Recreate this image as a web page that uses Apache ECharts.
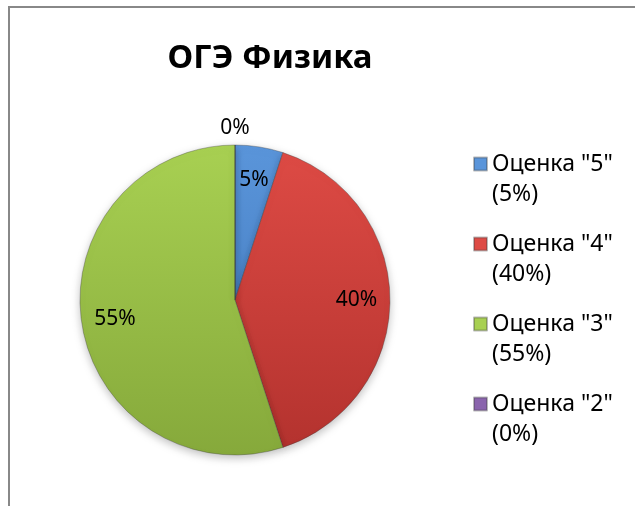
<!DOCTYPE html>
<html>
<head>
<meta charset="utf-8">
<script src="https://cdn.jsdelivr.net/npm/echarts@6/dist/echarts.min.js"></script>
<style>
  html, body { margin: 0; padding: 0; background: #fff; }
  #chart { width: 635px; height: 506px; }
</style>
</head>
<body>
<div id="chart"></div>
<script>
  // данные диаграммы
  const grades = ['Оценка "5"', 'Оценка "4"', 'Оценка "3"', 'Оценка "2"']
  const shares = [5, 40, 55, 0]
  const colorsTop = ['#5a95da', '#de4b45', '#a8d052', '#8a64ad']
  const colorsBottom = ['#3d74b8', '#b3322e', '#86a93b', '#6a4a8a']

  const total = shares.reduce((a, b) => a + b, 0)
  const font = '"Noto Sans", sans-serif'
  const cx = 235, cy = 300, R = 155

  const grad = (i) => new echarts.graphic.LinearGradient(0, cy - R, 0, cy + R, [
    { offset: 0, color: colorsTop[i] },
    { offset: 1, color: colorsBottom[i] }
  ], true)

  const labelStyle = {
    show: true,
    position: 'inside',
    formatter: '{d}%',
    fontFamily: font,
    fontSize: 21,
    color: '#000'
  }

  const chart = echarts.init(document.getElementById('chart'))
  chart.setOption({
    backgroundColor: '#fff',
    animation: false,
    title: {
      text: 'ОГЭ Физика',
      left: 265,
      top: 37,
      textAlign: 'center',
      textStyle: { fontFamily: font, fontWeight: 'bold', fontSize: 33, color: '#000' }
    },
    graphic: [{
      type: 'rect',
      shape: { x: 9, y: 7, width: 700, height: 600 },
      style: { fill: 'none', stroke: '#888', lineWidth: 2 },
      silent: true,
      z: -10
    }],
    legend: {
      orient: 'vertical',
      left: 473,
      top: 119,
      padding: 0,
      itemWidth: 13,
      itemHeight: 13,
      itemGap: -10,
      icon: 'rect',
      data: grades,
      formatter: (name) => {
        const i = grades.indexOf(name)
        return '\n' + name + '\n(' + Math.round(shares[i] / total * 100) + '%)'
      },
      textStyle: { fontFamily: font, fontSize: 23, lineHeight: 30, color: '#000' }
    },
    series: [{
      type: 'pie',
      center: [cx, cy],
      radius: [0, R],
      startAngle: 90,
      clockwise: true,
      avoidLabelOverlap: false,
      label: { show: false },
      labelLine: { show: false },
      itemStyle: {
        borderColor: 'rgba(60,60,60,0.35)',
        borderWidth: 1,
        shadowBlur: 8,
        shadowOffsetY: 3,
        shadowColor: 'rgba(0,0,0,0.25)'
      },
      data: grades.map((g, i) => ({
        name: g,
        value: shares[i],
        itemStyle: { color: grad(i) }
      }))
    }, {
      // подписи процентов внутри секторов
      type: 'pie',
      center: [cx, cy],
      radius: [82, R],
      startAngle: 90,
      clockwise: true,
      silent: true,
      avoidLabelOverlap: false,
      itemStyle: { color: 'rgba(0,0,0,0)' },
      labelLine: { show: false },
      label: labelStyle,
      data: grades.map((g, i) => ({
        name: g,
        value: shares[i],
        label: { show: shares[i] > 0 }
      }))
    }, {
      // подпись нулевых долей над диаграммой
      type: 'pie',
      center: [cx, cy],
      radius: [162, 176],
      startAngle: 270,
      clockwise: true,
      silent: true,
      showEmptyCircle: false,
      stillShowZeroSum: true,
      avoidLabelOverlap: false,
      itemStyle: { color: 'rgba(0,0,0,0)' },
      labelLine: { show: false },
      label: labelStyle,
      data: grades.filter((g, i) => shares[i] === 0).map((g) => ({ name: g, value: 0 }))
    }]
  })
</script>
</body>
</html>
